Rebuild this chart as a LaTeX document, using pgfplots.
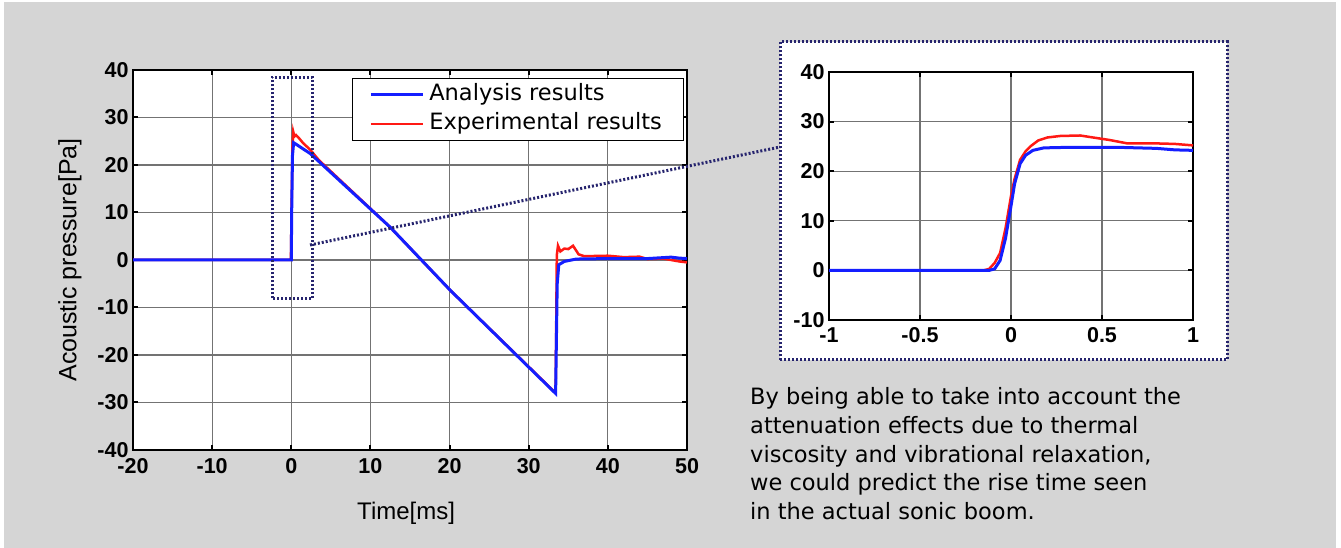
\documentclass[border=0pt]{standalone}
\usepackage{fontspec}
\setmainfont{Liberation Sans}
\newfontfamily\dejavu{DejaVu Sans}
\usepackage{pgfplots}
\pgfplotsset{compat=1.18}
\definecolor{bggray}{RGB}{213,213,213}
\definecolor{navydot}{RGB}{38,36,110}
\definecolor{myblue}{RGB}{20,30,255}
\definecolor{myred}{RGB}{255,25,20}
\begin{document}
\begin{tikzpicture}
\path[use as bounding box] (0,0) rectangle (1341pt,548pt);
\fill[white] (0,0) rectangle (1341pt,548pt);
\fill[bggray] (4pt,0pt) rectangle (1336pt,546pt);
% inset frame
\fill[white] (780pt,188pt) rectangle (1227pt,506pt);
\draw[navydot, line width=3pt, dash pattern=on 2pt off 2pt] (780pt,188pt) rectangle (1227pt,506pt);
\pgfplotsset{
  myaxis/.style={
    scale only axis,
    axis background/.style={fill=white},
    /pgf/number format/assume math mode=true,
    ticklabel style={font=\fontsize{21.5}{25}\selectfont\bfseries},
    grid=major,
    major grid style={black!55, line width=1.2pt},
    axis line style={black, line width=2pt},
    tick style={black, line width=2pt},
    major tick length=5pt,
    tick align=inside,
  }
}
\begin{axis}[myaxis,
  at={(133pt,98pt)}, anchor=south west,
  width=554pt, height=380pt,
  xmin=-20, xmax=50, ymin=-40, ymax=40,
  xtick={-20,-10,...,50}, ytick={-40,-30,...,40},
  xticklabel style={yshift=-5pt},
  yticklabel style={xshift=-1pt},
  xlabel={Time[ms]},
  ylabel={Acoustic pressure[Pa]},
  xlabel style={at={(axis description cs:0.493,-0.166)}, anchor=center, font=\fontsize{24}{28}\selectfont},
  ylabel style={at={(axis description cs:-0.114,0.5)}, anchor=center, font=\fontsize{25}{30}\selectfont},
  reverse legend,
  legend style={at={(axis description cs:0.395,0.979)}, anchor=north west,
    draw=black, line width=1pt, fill=white,
    font=\dejavu\fontsize{22.5}{27}\selectfont,
    inner xsep=17pt, inner ysep=2pt, row sep=0pt,
    nodes={inner xsep=5pt, inner ysep=3pt, text height=17pt, text depth=6pt}},
  legend image code/.code={\draw[#1] (0pt,0pt) -- (52pt,0pt);},
  legend cell align=left,
]
\addplot[myred, line width=2.5pt] coordinates {
(-20,0) (-0.05,0) (0.05,12) (0.15,24) (0.25,27) (0.4,26) (0.6,26.3) (1,25.6) (1.5,24.6) (2.4,23.2) (3.5,21.0) (12.5,6.9) (20.1,-6.4) (33.4,-28.0)
(33.55,1) (33.7,3) (34,1.8) (34.5,2.4) (35,2.3) (35.6,3.0) (36.3,1.2) (37,0.8) (40,0.9) (42,0.6) (44,0.7) (45,0.2) (47,0.3) (48,0) (49,-0.3) (50,-0.5)
};
\addlegendentry{Experimental results}
\addplot[myblue, line width=3pt] coordinates {
(-20,0) (0,0) (0.05,10) (0.15,22) (0.3,24.7) (2.4,22.4) (12.5,6.9) (20.1,-6.4) (33.4,-28.1)
(33.6,-5) (33.8,-1) (34.5,-0.3) (36,0.2) (40,0.3) (45,0.3) (48,0.6) (49,0.4) (50,0.3)
};
\addlegendentry{Analysis results}
\draw[navydot, line width=3pt, dash pattern=on 2pt off 2pt] (axis cs:-2.4,-8.1) rectangle (axis cs:2.65,38.5);
\end{axis}
\draw[navydot, line width=3pt, dash pattern=on 2pt off 2pt] (310pt,303pt) -- (780pt,401pt);
\begin{axis}[myaxis,
  at={(829pt,228pt)}, anchor=south west,
  width=364pt, height=248pt,
  xmin=-1, xmax=1, ymin=-10, ymax=40,
  xtick={-1,-0.5,0,0.5,1}, ytick={-10,0,...,40},
  xticklabel style={yshift=-4pt},
  yticklabel style={xshift=-1pt},
  axis line style={black, line width=2.5pt},
]
\addplot[myred, line width=2.5pt] coordinates {
(-1,0) (-0.15,0) (-0.12,0.3) (-0.09,1.5) (-0.06,3.5) (-0.03,8.5) (0,15) (0.02,18.5) (0.05,22.3) (0.08,24) (0.11,25.1) (0.15,26.2) (0.2,26.8) (0.27,27.1) (0.38,27.2) (0.45,26.8) (0.54,26.3) (0.64,25.6) (0.8,25.6) (0.9,25.5) (1,25.2)
};
\addplot[myblue, line width=3pt] coordinates {
(-1,0) (-0.12,0) (-0.09,0.3) (-0.06,2) (-0.03,6.5) (0,13) (0.02,17.5) (0.05,21.5) (0.08,23.2) (0.12,24.2) (0.18,24.7) (0.3,24.8) (0.6,24.8) (0.8,24.6) (0.9,24.3) (1,24.2)
};
\end{axis}
\begin{scope}[every node/.style={anchor=base west, inner sep=0pt, font=\dejavu\fontsize{22.5}{27}\selectfont, text=black}]
\node at (750pt,143pt) {By being able to take into account the};
\node at (750pt,114.3pt) {attenuation effects due to thermal};
\node at (750pt,85.6pt) {viscosity and vibrational relaxation,};
\node at (750pt,57pt) {we could predict the rise time seen};
\node at (750pt,28.2pt) {in the actual sonic boom.};
\end{scope}
\end{tikzpicture}
\end{document}
